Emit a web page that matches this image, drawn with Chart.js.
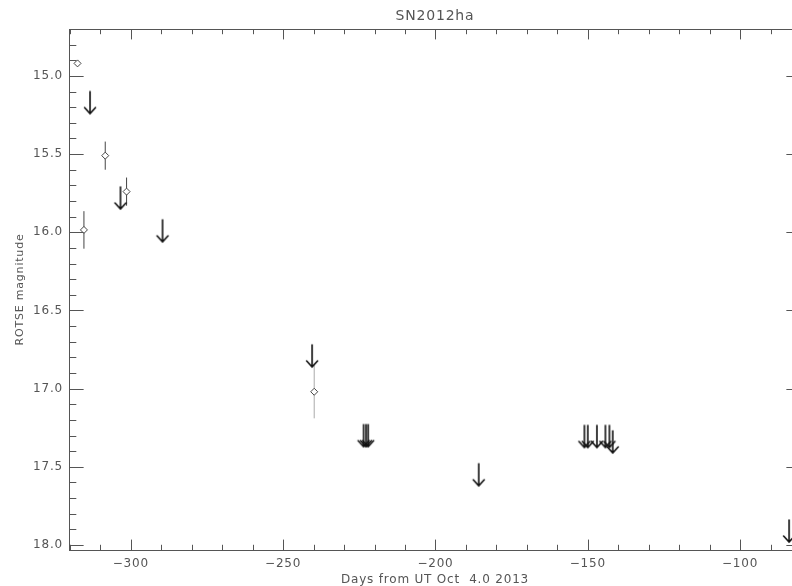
<!DOCTYPE html>
<html lang="en">

<head>
    <meta charset="UTF-8">
    <title>SN2012ha</title>
    <script src="https://cdn.jsdelivr.net/npm/chart.js"></script>
    <style>
        html, body { margin: 0; padding: 0; background: #fff; overflow: hidden; }
        #wrap { width: 792px; height: 586px; overflow: hidden; }
    </style>
</head>

<body>
    <div id="wrap">
        <canvas id="lcChart" width="810" height="586"></canvas>
    </div>

    <script>
        // detections (diamonds with error bars)
        const detDays = [-317.5, -315.4, -308.4, -301.4, -239.8];
        const detMag = [14.92, 15.985, 15.51, 15.74, 17.02];
        const detErr = [0.02, 0.12, 0.09, 0.09, 0.17];

        // upper limits (arrows), value = top of arrow
        const limDays = [-313.4, -303.4, -289.6, -240.5, -223.6, -222.8, -222.1, -185.8,
            -151.1, -150.0, -147.0, -144.2, -142.9, -141.8, -83.9];
        const limMag = [15.10, 15.71, 15.92, 16.72, 17.23, 17.23, 17.23, 17.48,
            17.235, 17.235, 17.235, 17.235, 17.235, 17.27, 17.84];

        const xTicks = [-300, -250, -200, -150, -100];
        const yTicks = [15.0, 15.5, 16.0, 16.5, 17.0, 17.5, 18.0];

        const textColor = '#555';
        const frameColor = '#555';

        // down arrow used as point style
        function makeArrow() {
            const c = document.createElement('canvas');
            c.width = 16;
            c.height = 50;
            const g = c.getContext('2d');
            g.strokeStyle = '#111';
            g.lineWidth = 1.6;
            g.lineCap = 'round';
            g.beginPath();
            g.moveTo(8, 25);
            g.lineTo(8, 47);
            g.moveTo(2.5, 41);
            g.lineTo(8, 47);
            g.lineTo(13.5, 41);
            g.stroke();
            return c;
        }

        const spacing = {
            id: 'spacing',
            beforeLayout(chart) { chart.ctx.letterSpacing = '0.8px'; },
            beforeDraw(chart) { chart.ctx.letterSpacing = '0.8px'; }
        };

        const errorBars = {
            id: 'errorBars',
            beforeDatasetsDraw(chart) {
                const { ctx, chartArea, scales: { x, y } } = chart;
                ctx.save();
                ctx.beginPath();
                ctx.rect(chartArea.left, chartArea.top, chartArea.right - chartArea.left, chartArea.bottom - chartArea.top);
                ctx.clip();
                ctx.lineWidth = 1;
                detDays.forEach((d, i) => {
                    const px = x.getPixelForValue(d);
                    ctx.strokeStyle = i === 4 ? '#aaa' : '#444';
                    ctx.beginPath();
                    ctx.moveTo(px, y.getPixelForValue(detMag[i] - detErr[i]));
                    ctx.lineTo(px, y.getPixelForValue(detMag[i] + detErr[i]));
                    ctx.stroke();
                });
                ctx.restore();
            }
        };

        // IDL style frame with inward ticks on all four sides
        const frame = {
            id: 'frame',
            afterDraw(chart) {
                const { ctx, chartArea: a, scales: { x, y } } = chart;
                const w = a.right - a.left, h = a.bottom - a.top;
                const xMaj = 0.02 * h, yMaj = 0.02 * w;
                ctx.save();
                ctx.strokeStyle = frameColor;
                ctx.lineWidth = 1;
                ctx.strokeRect(a.left + 0.5, a.top + 0.5, w, h);
                ctx.beginPath();
                for (let v = -320; v <= -80; v += 10) {
                    const px = Math.round(x.getPixelForValue(v)) + 0.5;
                    if (px < a.left || px > a.right) continue;
                    const len = v % 50 === 0 ? xMaj : xMaj / 2;
                    ctx.moveTo(px, a.bottom); ctx.lineTo(px, a.bottom - len);
                    ctx.moveTo(px, a.top); ctx.lineTo(px, a.top + len);
                }
                for (let k = 147; k <= 180; k++) {
                    const v = k / 10;
                    const py = Math.round(y.getPixelForValue(v)) + 0.5;
                    if (py < a.top || py > a.bottom) continue;
                    const len = k % 5 === 0 ? yMaj : yMaj / 2;
                    ctx.moveTo(a.left, py); ctx.lineTo(a.left + len, py);
                    ctx.moveTo(a.right, py); ctx.lineTo(a.right - len, py);
                }
                ctx.stroke();
                ctx.restore();
            }
        };

        const ctx = document.getElementById('lcChart').getContext('2d');
        const chart = new Chart(ctx, {
            type: 'scatter',
            data: {
                datasets: [{
                    label: 'detections',
                    data: detDays.map((d, i) => ({ x: d, y: detMag[i] })),
                    pointStyle: 'rectRot',
                    pointRadius: 3.5,
                    borderWidth: 1,
                    borderColor: '#444',
                    backgroundColor: '#fff'
                }, {
                    label: 'upper limits',
                    data: limDays.map((d, i) => ({ x: d, y: limMag[i] })),
                    pointStyle: makeArrow(),
                    pointRadius: 8
                }]
            },
            options: {
                responsive: false,
                animation: false,
                events: [],
                layout: { padding: { left: 0, right: 8, top: 0, bottom: 0 } },
                plugins: {
                    legend: { display: false },
                    tooltip: { enabled: false },
                    title: {
                        display: true,
                        text: 'SN2012ha',
                        fullSize: false,
                        color: textColor,
                        font: { family: 'DejaVu Sans', size: 14, weight: 'normal', lineHeight: 1.2 },
                        padding: { top: 8, bottom: 4.2 }
                    }
                },
                scales: {
                    x: {
                        type: 'linear',
                        min: -320.3,
                        max: -80,
                        grid: { display: false, drawTicks: false },
                        border: { display: false },
                        afterBuildTicks: s => { s.ticks = xTicks.map(v => ({ value: v })); },
                        afterFit: s => { s.height = 36; },
                        ticks: {
                            color: textColor,
                            padding: 7,
                            maxRotation: 0,
                            font: { family: 'DejaVu Sans', size: 12 },
                            callback: v => (v < 0 ? '\u2212' : '') + Math.abs(v)
                        },
                        title: {
                            display: true,
                            text: 'Days from UT Oct  4.0 2013',
                            color: textColor,
                            font: { family: 'DejaVu Sans', size: 12, lineHeight: 1 },
                            padding: { top: 0, bottom: 0 }
                        }
                    },
                    y: {
                        type: 'linear',
                        reverse: true,
                        min: 14.70,
                        max: 18.032,
                        grid: { display: false, drawTicks: false },
                        border: { display: false },
                        afterBuildTicks: s => { s.ticks = yTicks.map(v => ({ value: v })); },
                        afterFit: s => { s.width = 69; },
                        ticks: {
                            color: textColor,
                            padding: 6,
                            font: { family: 'DejaVu Sans', size: 12 },
                            callback: v => Number(v).toFixed(1)
                        },
                        title: {
                            display: true,
                            text: 'ROTSE magnitude',
                            color: textColor,
                            font: { family: 'DejaVu Sans', size: 11, lineHeight: 1.2 },
                            padding: { top: 14, bottom: 0 }
                        }
                    }
                }
            },
            plugins: [spacing, errorBars, frame]
        });
    </script>

</body>

</html>
